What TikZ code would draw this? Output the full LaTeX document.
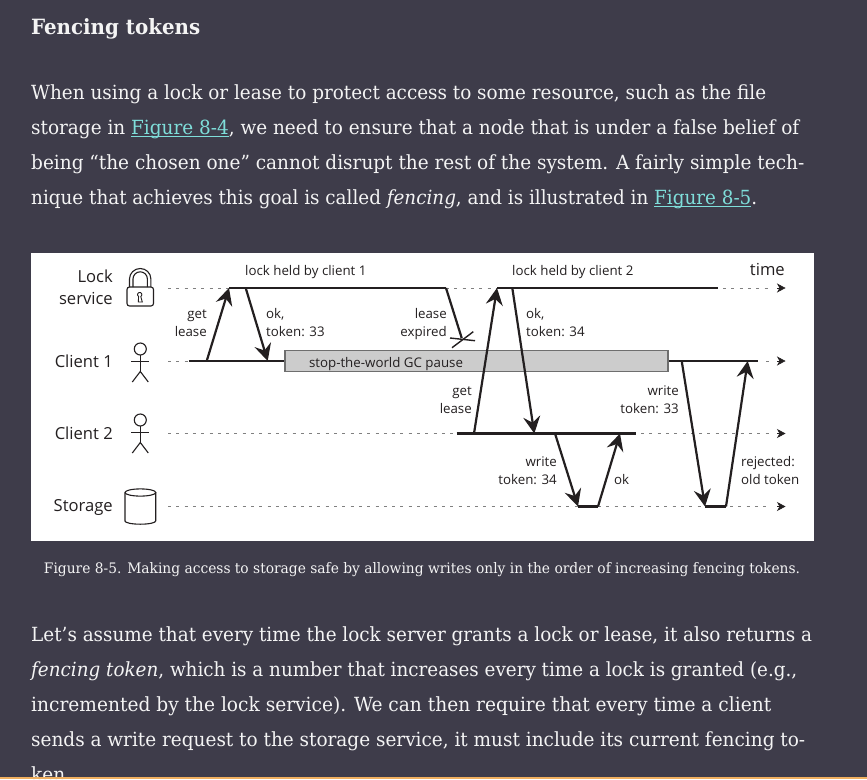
\documentclass[tikz,border=0pt]{standalone}
\usepackage{fontspec}
\usepackage{graphicx}
\usetikzlibrary{arrows.meta}
\setmainfont{DejaVu Serif Condensed}
\newfontfamily\diagfont{Open Sans}
\definecolor{pagebg}{HTML}{3E3C4A}
\definecolor{bodytext}{HTML}{F4F4F4}
\definecolor{linkcol}{HTML}{7FDEDA}
\definecolor{ink}{HTML}{231F20}
\definecolor{boxfill}{HTML}{CCCCCC}
\definecolor{boxedge}{HTML}{6E6E6E}
\definecolor{dashcol}{HTML}{808080}
\definecolor{barcol}{HTML}{F0B060}
\newcommand{\fitline}[2]{\resizebox{#1pt}{\height}{#2}}
\newsavebox{\lnkbox}
\newcommand{\lnk}[1]{\sbox{\lnkbox}{#1}\textcolor{linkcol}{\rlap{\rule[-2.6pt]{\wd\lnkbox}{1pt}}#1}}
\tikzset{
  bodyline/.style={anchor=base west,inner sep=0pt,text=bodytext,font=\fontsize{19.5}{23}\selectfont},
  headline/.style={anchor=base west,inner sep=0pt,text=bodytext,font=\fontsize{21}{25}\selectfont\bfseries},
  captionline/.style={anchor=base,inner sep=0pt,text=bodytext,font=\fontsize{14.5}{18}\selectfont},
  biglabel/.style={inner sep=0pt,text=ink,font=\diagfont\fontsize{16.6}{22}\selectfont,align=right},
  smalllabel/.style={inner sep=0pt,text=ink,font=\diagfont\fontsize{13.3}{18}\selectfont},
  timeline/.style={draw=ink,line width=2.2pt},
  dashline/.style={draw=dashcol,line width=1pt,dash pattern=on 3pt off 5.3pt},
  endtip/.style={draw=ink,line width=0.6pt,-{Stealth[length=8.5pt,width=9pt,inset=2.5pt,color=ink]}},
  msg/.style={draw=ink,line width=2.2pt,-{Stealth[length=17pt,width=17pt,inset=6pt,color=ink]}},
  plainmsg/.style={draw=ink,line width=2.2pt},
  iconline/.style={draw=ink,line width=1.1pt},
  gcbox/.style={draw=boxedge,fill=boxfill,line width=1.2pt,inner sep=0pt,text=ink,minimum width=383pt,minimum height=21pt}
}
\begin{document}
\begin{tikzpicture}[x=1pt,y=-1pt]
\useasboundingbox (0,0) rectangle (867,779);
\fill[pagebg] (0,0) rectangle (867,779);
% body text
\node[headline] (head) at (31,34) {\fitline{169}{Fencing tokens}};
\node[bodyline] (p1a) at (31,99) {\fitline{735}{When using a lock or lease to protect access to some resource, such as the file}};
\node[bodyline] (p1b) at (31,134) {\fitline{768}{storage in \lnk{Figure 8-4}, we need to ensure that a node that is under a false belief of}};
\node[bodyline] (p1c) at (31,169) {\fitline{773}{being “the chosen one” cannot disrupt the rest of the system. A fairly simple tech-}};
\node[bodyline] (p1d) at (31,204) {\fitline{726}{nique that achieves this goal is called \textit{fencing}, and is illustrated in \lnk{Figure 8-5}.}};
\node[bodyline] (p2a) at (31,641) {\fitline{781}{Let’s assume that every time the lock server grants a lock or lease, it also returns a}};
\node[bodyline] (p2b) at (31,676) {\fitline{766}{\textit{fencing token}, which is a number that increases every time a lock is granted (e.g.,}};
\node[bodyline] (p2c) at (31,711) {\fitline{740}{incremented by the lock service). We can then require that every time a client}};
\node[bodyline] (p2d) at (31,746) {\fitline{774}{sends a write request to the storage service, it must include its current fencing to-}};
\node[bodyline] (p2e) at (31,781) {\fitline{34}{ken}};
\fill[barcol] (0,777) rectangle (867,779);
% figure panel
\fill[white] (31,253) rectangle (814,541);
\node[captionline] (cap) at (422,573) {\fitline{756}{Figure 8-5. Making access to storage safe by allowing writes only in the order of increasing fencing tokens.}};
% row labels
\node[biglabel,anchor=east] (lbllock) at (113,287.5) {Lock\\service};
\node[biglabel,anchor=east] (lblc1) at (113,361) {Client 1};
\node[biglabel,anchor=east] (lblc2) at (113,433) {Client 2};
\node[biglabel,anchor=east] (lblst) at (113,507) {Storage};
\node[biglabel,anchor=east] (lbltime) at (785,269) {time};
% lock icon
\draw[iconline,rounded corners=2.5pt] (127,287) rectangle (153.5,306);
\draw[iconline] (129.5,287) -- (129.5,279) arc[start angle=180,end angle=360,x radius=10.7,y radius=10.5] -- (150.9,287);
\draw[iconline] (133,287) -- (133,279) arc[start angle=180,end angle=360,x radius=7.2,y radius=7.2] -- (147.4,287);
\draw[iconline,line width=0.9pt] (138.6,296.5) arc[start angle=120,end angle=420,radius=2.2] -- (142.3,302) -- (138.3,302) -- cycle;
% persons
\foreach \yy in {349,420}{
  \draw[iconline] (140.3,\yy) circle[radius=6];
  \draw[iconline] (140.3,\yy+6) -- (140.3,\yy+23);
  \draw[iconline] (131.3,\yy+12.5) -- (149,\yy+12.5);
  \draw[iconline] (132.3,\yy+33) -- (140.3,\yy+22.5) -- (148.3,\yy+33);
}
% storage cylinder
\draw[iconline] (125,493) -- (125,521) arc[start angle=180,end angle=0,x radius=15.35,y radius=3.2] -- (155.7,493);
\draw[iconline] (140.4,492.5) ellipse[x radius=15.4,y radius=3.6];
% coordinates
\coordinate (L0) at (168,288); \coordinate (L1) at (229,288); \coordinate (L2) at (446,288);
\coordinate (L3) at (497,288); \coordinate (L4) at (718,288);
\coordinate (Ld) at (723,288); \coordinate (Le) at (771,288); \coordinate (Lt) at (777,288); \coordinate (Lend) at (785.5,288);
\coordinate (A0) at (168,361); \coordinate (A1) at (189,361); \coordinate (A3) at (758,361);
\coordinate (Ad) at (766,361); \coordinate (Ae) at (771,361); \coordinate (At) at (777,361); \coordinate (Aend) at (785.5,361);
\coordinate (Abox) at (285,361); \coordinate (Abox2) at (668,361);
\coordinate (B0) at (168,433.5); \coordinate (B1) at (456.5,433.5); \coordinate (B2) at (636,433.5);
\coordinate (Bd) at (641,433.5); \coordinate (Be) at (771,433.5); \coordinate (Bt) at (777,433.5); \coordinate (Bend) at (785.5,433.5);
\coordinate (S0) at (168,506.5); \coordinate (S1) at (578,506.5); \coordinate (S2) at (598,506.5);
\coordinate (S3) at (705,506.5); \coordinate (S4) at (726,506.5);
\coordinate (Sd) at (730,506.5); \coordinate (Se) at (771,506.5); \coordinate (St) at (777,506.5); \coordinate (Send) at (785.5,506.5);
\coordinate (gl1a) at (206.7,361); \coordinate (ok1a) at (245.7,288); \coordinate (ok1b) at (267.7,361);
\coordinate (exb) at (461.7,338);
\coordinate (gl2a) at (474,433.5); \coordinate (ok2a) at (512.3,288); \coordinate (ok2b) at (534.3,433.5);
\coordinate (w34a) at (555,433.5); \coordinate (okb) at (620,433.5);
\coordinate (w33a) at (681.7,361); \coordinate (rejb) at (747.7,361);
\coordinate (x1a) at (450,338); \coordinate (x1b) at (475,340.7); \coordinate (x2a) at (452,347.7); \coordinate (x2b) at (473.3,331.7);
% dashed timelines
\path[dashline] (L0) -- (L1);
\path[dashline] (L2) -- (L3);
\path[dashline] (Ld) -- (Le);
\path[endtip] (Lt) -- (Lend);
\path[dashline] (A0) -- (A1);
\path[dashline] (Ad) -- (Ae);
\path[endtip] (At) -- (Aend);
\path[dashline] (B0) -- (B1);
\path[dashline] (Bd) -- (Be);
\path[endtip] (Bt) -- (Bend);
\path[dashline] (S0) -- (S1);
\path[dashline] (S2) -- (S3);
\path[dashline] (Sd) -- (Se);
\path[endtip] (St) -- (Send);
% solid timelines
\path[timeline] (L1) -- (L2);
\path[timeline] (L3) -- (L4);
\path[timeline] (A1) -- (Abox);
\path[timeline] (Abox2) -- (A3);
\path[timeline] (B1) -- (B2);
\path[timeline] (S1) -- (S2);
\path[timeline] (S3) -- (S4);
% GC box
\node[gcbox] (gc) at (476.5,361.3) {};
\node[smalllabel,anchor=base] (gctxt) at (386,367) {stop-the-world GC pause};
% messages
\path[msg] (gl1a) -- (L1);
\path[msg] (ok1a) -- (ok1b);
\path[plainmsg] (L2) -- (exb);
\draw[ink,line width=1.4pt] (x1a) -- (x1b);
\draw[ink,line width=1.4pt] (x2a) -- (x2b);
\path[msg] (gl2a) -- (L3);
\path[msg] (ok2a) -- (ok2b);
\path[msg] (w34a) -- (S1);
\path[msg] (S2) -- (okb);
\path[msg] (w33a) -- (S3);
\path[msg] (S4) -- (rejb);
% labels
\node[smalllabel,anchor=base west] (t1) at (245,275) {lock held by client 1};
\node[smalllabel,anchor=base west] (t2) at (512,275) {lock held by client 2};
\node[smalllabel,align=right,anchor=base east] (t3) at (207,336) {get\\lease};
\node[smalllabel,align=left,anchor=base west] (t4) at (266,336) {ok,\\token: 33};
\node[smalllabel,align=right,anchor=base east] (t5) at (447,336) {lease\\expired};
\node[smalllabel,align=left,anchor=base west] (t6) at (526,336) {ok,\\token: 34};
\node[smalllabel,align=right,anchor=base east] (t7) at (472,413) {get\\lease};
\node[smalllabel,align=right,anchor=base east] (t8) at (679,413) {write\\token: 33};
\node[smalllabel,align=right,anchor=base east] (t9) at (557,484) {write\\token: 34};
\node[smalllabel,anchor=base west] (t10) at (614,484) {ok};
\node[smalllabel,align=left,anchor=base west] (t11) at (741,484) {rejected:\\old token};
\end{tikzpicture}
\end{document}
